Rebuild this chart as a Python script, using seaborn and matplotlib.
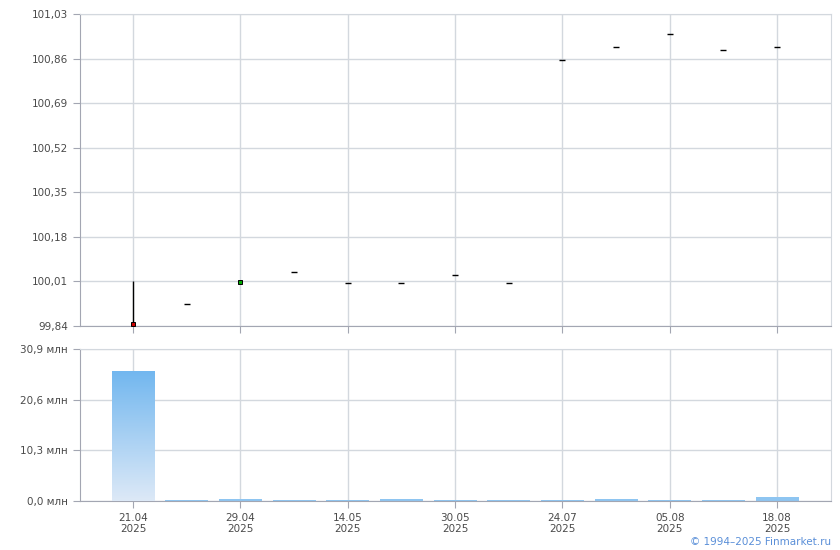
import numpy as np
import pandas as pd
import matplotlib
matplotlib.use("Agg")
import matplotlib.pyplot as plt
from matplotlib.colors import LinearSegmentedColormap
import seaborn as sns

# data
dates = ["21.04", "24.04", "29.04", "07.05", "14.05", "21.05", "30.05",
         "10.06", "24.07", "29.07", "05.08", "12.08", "18.08"]
close = [99.848, 99.924, 100.008, 100.046, 100.004, 100.004, 100.035,
         100.004, 100.855, 100.905, 100.955, 100.893, 100.905]
high = [100.01, 99.924, 100.008, 100.046, 100.004, 100.004, 100.035,
        100.004, 100.855, 100.905, 100.955, 100.893, 100.905]
low = [99.845, 99.924, 100.008, 100.046, 100.004, 100.004, 100.035,
       100.004, 100.855, 100.905, 100.955, 100.893, 100.905]
volume = [26.4, 0.2, 0.4, 0.15, 0.2, 0.35, 0.15, 0.3, 0.2, 0.35, 0.2, 0.2, 0.75]

price_ticks = [99.84, 100.01, 100.18, 100.35, 100.52, 100.69, 100.86, 101.03]
vol_ticks = [0.0, 10.3, 20.6, 30.9]
label_idx = [0, 2, 4, 6, 8, 10, 12]

df = pd.DataFrame({"i": range(len(dates)), "date": dates, "close": close,
                   "high": high, "low": low, "volume": volume})

sns.set_style("white")
plt.rcParams["font.family"] = ["DejaVu Sans"]

grid_c = "#d3d8de"
spine_c = "#a3a6b2"
text_c = "#4a4a4a"

fig = plt.figure(figsize=(8.4, 5.5), dpi=100)
ax1 = fig.add_axes([0.0952, 0.4073, 0.8938, 0.5672])
ax2 = fig.add_axes([0.0952, 0.0891, 0.8938, 0.2764])

# price panel
ax1.vlines(df["i"], df["low"], df["high"], color="black", lw=1.0, zorder=3)
sns.scatterplot(data=df.iloc[[1, 3, 4, 5, 6, 7, 8, 9, 10, 11, 12]], x="i", y="close",
                marker="_", s=20, color="black", linewidth=1.0, ax=ax1, zorder=4)
ax1.plot(df["i"][0], df["close"][0], "s", ms=3.2, mfc="#cc0000", mec="black", mew=0.7, zorder=5)
ax1.plot(df["i"][2], df["close"][2], "s", ms=3.2, mfc="#00aa00", mec="black", mew=0.7, zorder=5)

ax1.set_ylim(price_ticks[0], price_ticks[-1])
ax1.set_yticks(price_ticks)
ax1.set_yticklabels([f"{v:.2f}".replace(".", ",") for v in price_ticks])
ax1.set_xlim(-0.99, 13.0)
ax1.set_xticks(label_idx)
ax1.set_xticklabels([])
ax1.set_xlabel("")
ax1.set_ylabel("")

# volume panel, each bar gets its own vertical gradient
sns.barplot(data=df, x="i", y="volume", color="#74b9f0", width=0.8, ax=ax2, zorder=2)
cmap = LinearSegmentedColormap.from_list("vol", ["#dde9f7", "#72b7ef"])
grad = np.linspace(0, 1, 256).reshape(-1, 1)
for p in ax2.patches:
    x0, w, h = p.get_x(), p.get_width(), p.get_height()
    if h < 1:
        p.set_facecolor("#8ec5f1")
        p.set_edgecolor("none")
        continue
    im = ax2.imshow(grad, cmap=cmap, origin="lower", aspect="auto",
                    extent=[x0, x0 + w, 0, h], zorder=3)
    im.set_clip_path(p)
    p.set_alpha(0)
ax2.set_ylim(vol_ticks[0], vol_ticks[-1])
ax2.set_yticks(vol_ticks)
ax2.set_yticklabels([f"{v:.1f}".replace(".", ",") + " млн" for v in vol_ticks])
ax2.set_xlim(-0.99, 13.0)
ax2.set_xticks(label_idx)
ax2.set_xticklabels([dates[i] + "\n2025" for i in label_idx])
ax2.set_xlabel("")
ax2.set_ylabel("")

for ax in (ax1, ax2):
    ax.grid(True, color=grid_c, lw=1)
    ax.set_axisbelow(True)
    for s in ("top", "right"):
        ax.spines[s].set_color(grid_c)
    for s in ("left", "bottom"):
        ax.spines[s].set_color(spine_c)
    ax.tick_params(axis="both", length=5, color=spine_c, labelcolor=text_c,
                   labelsize=7.5, direction="out", left=True, bottom=True)

fig.text(0.989, 0.006, "© 1994–2025 Finmarket.ru", ha="right", va="bottom",
         color="#5a8fd8", fontsize=7.5)

fig.savefig("out.png", dpi=100)
